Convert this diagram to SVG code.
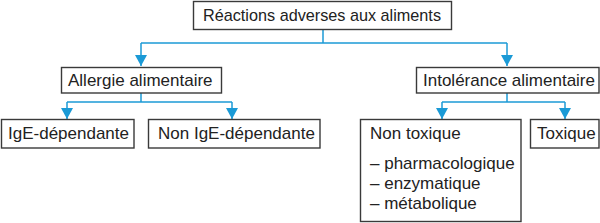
<svg xmlns="http://www.w3.org/2000/svg" width="600" height="223" viewBox="0 0 600 223">
<style>
.box{fill:#fff;stroke:#3a3a3a;stroke-width:1.4}
.t{font-family:"Liberation Sans",Arial,sans-serif;font-size:17px;fill:#222}
.c{fill:none;stroke:#1b9ad6;stroke-width:1.5}
</style>
<defs>
<marker id="ah" viewBox="0 0 11 12" refX="11" refY="6" markerWidth="11" markerHeight="12" markerUnits="userSpaceOnUse" orient="auto">
<path d="M0,0 L11,6 L0,12 z" fill="#1b9ad6"/>
</marker>
</defs>
<g id="connectors">
<path class="c" d="M323,30 V43"/>
<path class="c" d="M141,43 H507"/>
<path class="c" d="M141,43 V66" marker-end="url(#ah)"/>
<path class="c" d="M507,43 V66" marker-end="url(#ah)"/>
<path class="c" d="M141,93 V102"/>
<path class="c" d="M67,102 H232"/>
<path class="c" d="M67,102 V119" marker-end="url(#ah)"/>
<path class="c" d="M232,102 V119" marker-end="url(#ah)"/>
<path class="c" d="M507,93 V102"/>
<path class="c" d="M442,102 H565"/>
<path class="c" d="M442,102 V119" marker-end="url(#ah)"/>
<path class="c" d="M565,102 V119" marker-end="url(#ah)"/>
</g>
<g id="n-root">
<rect class="box" x="193.5" y="1.5" width="258" height="28"/>
<text class="t" x="203" y="21" textLength="238" lengthAdjust="spacingAndGlyphs">Réactions adverses aux aliments</text>
</g>
<g id="n-allergie">
<rect class="box" x="61.5" y="67.5" width="160" height="25.5"/>
<text class="t" x="68" y="86">Allergie alimentaire</text>
</g>
<g id="n-intolerance">
<rect class="box" x="416.5" y="67.5" width="182.5" height="25.5"/>
<text class="t" x="423" y="86">Intolérance alimentaire</text>
</g>
<g id="n-ige">
<rect class="box" x="1.5" y="119.5" width="132.5" height="28.5"/>
<text class="t" x="8" y="139">IgE-dépendante</text>
</g>
<g id="n-nonige">
<rect class="box" x="148.5" y="119.5" width="171.5" height="28.5"/>
<text class="t" x="158" y="139">Non IgE-dépendante</text>
</g>
<g id="n-nontoxique">
<rect class="box" x="360.5" y="119.5" width="160.5" height="102"/>
<text class="t" x="370" y="139">Non toxique</text>
<text class="t" x="370" y="169">– pharmacologique</text>
<text class="t" x="370" y="189">– enzymatique</text>
<text class="t" x="370" y="209">– métabolique</text>
</g>
<g id="n-toxique">
<rect class="box" x="530.5" y="119.5" width="68.5" height="28.5"/>
<text class="t" x="537" y="139">Toxique</text>
</g>
</svg>
